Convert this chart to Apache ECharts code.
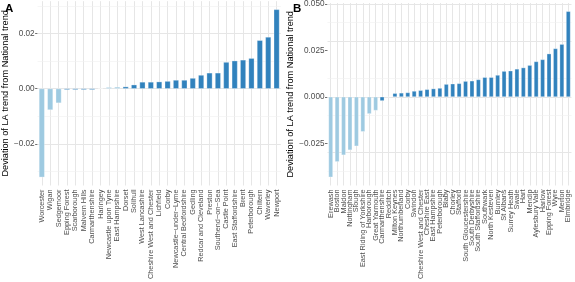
<!DOCTYPE html>
<html>
<head>
<meta charset="utf-8">
<script src="https://cdn.jsdelivr.net/npm/echarts@6/dist/echarts.min.js"></script>
<style>html,body{margin:0;padding:0;background:#fff}#c{width:575px;height:282px}</style>
</head>
<body>
<div id="c"></div>
<script>
// Panel A
const catsA = ["Worcester","Wigan","Sedgemoor","Epping Forest","Scarborough","Malvern Hills","Carmarthenshire","Haringey","Newcastle upon Tyne","East Hampshire","Dorset","Solihull","West Lancashire","Cheshire West and Chester","Lichfield","Corby","Newcastle\u2212under\u2212Lyme","Central Bedfordshire","Gedling","Redcar and Cleveland","Preston","Southend\u2212on\u2212Sea","Castle Point","East Staffordshire","Brent","Peterborough","Chiltern","Waverley","Newport"];
const valsA = [-0.0321,-0.0077,-0.0052,-0.0004,-0.0004,-0.0004,-0.0004,0.0001,0.0005,0.0006,0.0007,0.0014,0.0024,0.0024,0.0025,0.0027,0.0031,0.0031,0.0038,0.0049,0.0057,0.0057,0.0096,0.0101,0.0104,0.0110,0.0175,0.0187,0.0287];
const sigA  = [0,0,0,1,1,1,1,0,0,0,1,1,1,1,1,1,1,1,1,1,1,1,1,1,1,1,1,1,1];
const majorA = [-0.02,0,0.02];
const minorA = [-0.03,-0.01,0.01,0.03];

// Panel B
const catsB = ["Erewash","Boston","Maldon","Nottingham","Slough","East Riding of Yorkshire","Harborough","Great Yarmouth","Carmarthenshire","Redditch","Milton Keynes","Northumberland","Corby","Swindon","Cheshire West and Chester","Cheshire East","East Hampshire","Peterborough","Blaby","Chorley","Stafford","South Gloucestershire","South Derbyshire","South Staffordshire","Southwark","North Kesteven","Burnley","St Albans","Surrey Heath","Swale","Hart","Mendip","Aylesbury Vale","Harlow","Epping Forest","Wyre","Merton","Elmbridge"];
const valsB = [-0.0432,-0.0349,-0.0313,-0.0286,-0.0265,-0.0187,-0.0091,-0.0073,-0.0021,0.0000,0.0019,0.0021,0.0023,0.0031,0.0035,0.0040,0.0044,0.0047,0.0068,0.0070,0.0072,0.0084,0.0086,0.0093,0.0105,0.0105,0.0117,0.0138,0.0140,0.0150,0.0157,0.0170,0.0190,0.0201,0.0232,0.0260,0.0283,0.0460];
const sigB  = [0,0,0,0,0,0,0,0,1,1,1,1,1,1,1,1,1,1,1,1,1,1,1,1,1,1,1,1,1,1,1,1,1,1,1,1,1,1];
const majorB = [-0.025,0,0.025,0.05];
const minorB = [-0.0375,-0.0125,0.0125,0.0375];

const DARK = '#3182bd', LIGHT = '#9ecae1', GRID = '#e6e6e6';
const FONT = 'Liberation Sans, Arial, sans-serif';

function fmt(d){ return v => (v < 0 ? '\u2212' : '') + Math.abs(v).toFixed(d); }

function gridLines(cats, major, minor){
  const data = [];
  cats.forEach(c => data.push({xAxis: c, lineStyle:{color:GRID, width:1, type:'solid'}}));
  major.forEach(v => data.push({yAxis: v, lineStyle:{color:GRID, width:1, type:'solid'}}));
  minor.forEach(v => data.push({yAxis: v, lineStyle:{color:'#f0f0f0', width:0.6, type:'solid'}}));
  return {silent:true, symbol:['none','none'], label:{show:false}, animation:false, data};
}

function xAxis(cats, idx){
  return {type:'category', gridIndex:idx, data:cats,
    axisLine:{show:false},
    axisTick:{show:true, alignWithLabel:true, interval:0, length:2.5, lineStyle:{color:'#333', width:0.7}},
    axisLabel:{interval:0, rotate:90, fontSize:7.3, color:'#4d4d4d', margin:4, fontFamily:FONT},
    splitLine:{show:false}};
}
function yAxis(idx, min, max, major, dec, gap){
  return {type:'value', gridIndex:idx, min, max,
    name:'Deviation of LA trend from National trend', nameLocation:'middle', nameGap:gap,
    nameTextStyle:{fontSize:9.2, color:'#000', fontFamily:FONT},
    axisLine:{show:false},
    axisTick:{show:true, customValues:major, length:2.5, lineStyle:{color:'#333', width:0.7}},
    axisLabel:{customValues:major, formatter:fmt(dec), fontSize:8.2, color:'#4d4d4d', margin:3, fontFamily:FONT},
    splitLine:{show:false}};
}
function bars(vals, sig, idx){
  return {type:'bar', xAxisIndex:idx, yAxisIndex:idx, barWidth:'66%', zlevel:1, z:3,
    data: vals.map((v,i)=>({value:v, itemStyle:{color: sig[i] ? DARK : LIGHT}})),
    itemStyle:{borderColor:'#fff', borderWidth:0.3}, animation:false};
}
function bg(cats, idx, major, minor){
  return {type:'line', xAxisIndex:idx, yAxisIndex:idx, data: cats.map(()=>null), zlevel:0, z:1,
    symbol:'none', silent:true, animation:false, markLine: gridLines(cats, major, minor)};
}

const chart = echarts.init(document.getElementById('c'), null, {renderer:'canvas'});
chart.setOption({
  animation:false,
  title:[
    {text:'A', left:0, top:-2, textStyle:{fontSize:11.5, fontWeight:'bold', color:'#000', fontFamily:FONT}},
    {text:'B', left:288, top:-2, textStyle:{fontSize:11.5, fontWeight:'bold', color:'#000', fontFamily:FONT}}
  ],
  grid:[
    {left:34, top:1.2, width:246.8, height:187.1, containLabel:false},
    {left:327.5, top:1.4, width:244, height:187.3, containLabel:false}
  ],
  xAxis:[xAxis(catsA,0), xAxis(catsB,1)],
  yAxis:[yAxis(0,-0.0351,0.0317,majorA,2,24), yAxis(1,-0.0477,0.0505,majorB,3,27)],
  series:[bg(catsA,0,majorA,minorA), bars(valsA,sigA,0), bg(catsB,1,majorB,minorB), bars(valsB,sigB,1)]
});
</script>
</body>
</html>
